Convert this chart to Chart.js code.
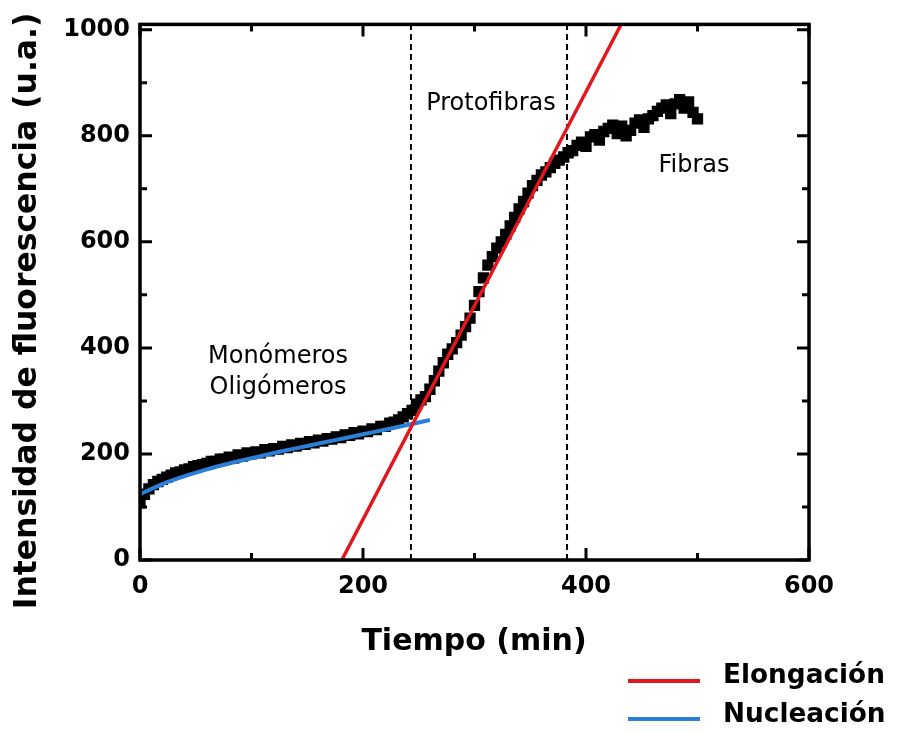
<!DOCTYPE html>
<html><head><meta charset="utf-8">
<script src="https://cdn.jsdelivr.net/npm/chart.js@4.4.1/dist/chart.umd.min.js"></script>
<style>html,body{margin:0;padding:0;background:#fff}#wrap{width:899px;height:733px;position:relative}</style>
</head><body><div id="wrap"><canvas id="c" width="899" height="733"></canvas></div>
<script>
// ---- data ----
const timeMin = [0,4,8,12,16,20,24,28,32,36,40,44,48,52,56,60,64,68,72,76,80,84,88,92,96,100,
104,108,112,116,120,124,128,132,136,140,144,148,152,156,160,164,168,172,176,180,184,188,192,196,200,
204,208,212,216,220,224,228,232,236,240,244,248,252,256,260,264,268,272,276,280,284,288,292,296,300,
304,308,312,316,320,324,328,332,336,340,344,348,352,356,360,364,368,372,376,380,384,388,392,396,400,
404,408,412,416,420,424,428,432,436,440,444,448,452,456,460,464,468,472,476,480,484,488,492,496,500];
const fluorescence = [108,124,134,142,148,152,156,160,164,166,170,172,176,178,180,182,186,186,190,190,194,192,198,196,202,200,
204,202,208,206,210,209,214,212,217,215,220,218,223,221,226,224,229,228,232,231,236,235,240,238,243,
242,247,246,252,252,258,260,264,270,276,282,294,302,308,322,338,356,372,388,398,410,424,440,456,480,
506,532,556,572,588,600,614,630,646,662,676,692,706,716,726,732,740,748,754,760,768,772,782,788,780,
798,802,792,808,814,820,804,818,800,810,824,830,816,832,838,846,852,858,842,860,868,852,864,844,832];
const nucleationX = [0,20,40,60,80,100,125,150,175,200,225,245,260];
const nucleationY = [124,143,158,171,182,192,204,215,226,237,248,257,264];
const elongationX = [181,431];
const elongationY = [0,1008];
const phaseBoundaries = [243,383];
const xTickValues = [0,200,400,600];
const xMinorTicks = [100,300,500];
const yTickValues = [0,200,400,600,800,1000];
const yMinorTicks = [100,300,500,700,900];
const seriesNames = ['Elongación','Nucleación'];
const phaseLabels = ['Monómeros','Oligómeros','Protofibras','Fibras'];
const axisTitles = ['Tiempo (min)','Intensidad de fluorescencia (u.a.)'];

const RED = '#e3161d', BLUE = '#2a7fd8';
const pts = (xs, ys) => xs.map((v,i)=>({x:v,y:ys[i]}));

const decor = {
  id:'decor',
  afterDatasetsDraw(chart){
    const {ctx, chartArea:a, scales:{x,y}} = chart;
    ctx.save();
    ctx.strokeStyle='#000';
    ctx.lineWidth=3.5;
    ctx.strokeRect(a.left, a.top, a.right-a.left, a.bottom-a.top);
    ctx.lineWidth=3;
    ctx.beginPath();
    const xt = (v,len)=>{const p=x.getPixelForValue(v); ctx.moveTo(p,a.bottom); ctx.lineTo(p,a.bottom-len); ctx.moveTo(p,a.top); ctx.lineTo(p,a.top+len);};
    const yt = (v,len)=>{const p=y.getPixelForValue(v); ctx.moveTo(a.left,p); ctx.lineTo(a.left+len,p); ctx.moveTo(a.right,p); ctx.lineTo(a.right-len,p);};
    xTickValues.forEach(v=>xt(v,12)); xMinorTicks.forEach(v=>xt(v,7));
    yTickValues.forEach(v=>yt(v,12)); yMinorTicks.forEach(v=>yt(v,7));
    ctx.stroke();
    ctx.restore();
  },
  afterDraw(chart){
    const ctx = chart.ctx;
    ctx.save();
    ctx.fillStyle='#000';
    const fit=(t,w,weight)=>{ctx.font=`${weight} 100px "DejaVu Sans"`;return 100*w/ctx.measureText(t).width;};
    // y axis title
    const ys = fit(axisTitles[1],597,'bold');
    ctx.save(); ctx.translate(36,311); ctx.rotate(-Math.PI/2);
    ctx.font=`bold ${ys}px "DejaVu Sans"`; ctx.textAlign='center'; ctx.textBaseline='alphabetic';
    ctx.fillText(axisTitles[1],0,0); ctx.restore();
    // x axis title
    ctx.font='bold 30px "DejaVu Sans"'; ctx.textAlign='center'; ctx.textBaseline='alphabetic';
    ctx.fillText(axisTitles[0],474,650);
    // phase labels
    ctx.font='24px "DejaVu Sans"';
    ctx.fillText(phaseLabels[0],278,363);
    ctx.fillText(phaseLabels[1],278,394);
    ctx.fillText(phaseLabels[2],491,110);
    ctx.fillText(phaseLabels[3],694,172);
    // legend
    const ls = fit(seriesNames[0],162,'bold');
    ctx.lineWidth=4;
    ctx.strokeStyle=RED; ctx.beginPath(); ctx.moveTo(628,681); ctx.lineTo(700,681); ctx.stroke();
    ctx.strokeStyle=BLUE; ctx.beginPath(); ctx.moveTo(628,719); ctx.lineTo(700,719); ctx.stroke();
    ctx.font=`bold ${ls}px "DejaVu Sans"`; ctx.textAlign='left';
    ctx.fillText(seriesNames[0],723,683);
    ctx.fillText(seriesNames[1],723,722);
    ctx.restore();
  }
};

new Chart(document.getElementById('c'), {
  type:'scatter',
  data:{datasets:[
    {label:seriesNames[0], data:pts(elongationX,elongationY), showLine:true, borderColor:RED, borderWidth:3.5, pointRadius:0, fill:false},
    {label:seriesNames[1], data:pts(nucleationX,nucleationY), showLine:true, borderColor:BLUE, borderWidth:4, pointRadius:0, tension:0.4, cubicInterpolationMode:'monotone', fill:false},
    {label:'ThT', data:pts(timeMin,fluorescence), showLine:false, pointStyle:'rect', pointRadius:8, backgroundColor:'#000', borderWidth:0},
    {label:'b1', data:[{x:phaseBoundaries[0],y:0},{x:phaseBoundaries[0],y:1010}], showLine:true, borderColor:'#000', borderWidth:2, borderDash:[6,4], pointRadius:0},
    {label:'b2', data:[{x:phaseBoundaries[1],y:0},{x:phaseBoundaries[1],y:1010}], showLine:true, borderColor:'#000', borderWidth:2, borderDash:[6,4], pointRadius:0}
  ]},
  options:{
    responsive:false, animation:false, devicePixelRatio:1,
    layout:{padding:{left:0,top:15,right:90,bottom:0}},
    plugins:{legend:{display:false}, tooltip:{enabled:false}},
    scales:{
      x:{type:'linear', min:0, max:600,
        grid:{display:false, drawTicks:false}, border:{display:false},
        afterBuildTicks:s=>{s.ticks=xTickValues.map(v=>({value:v}));},
        ticks:{font:{family:'DejaVu Sans',weight:'bold',size:24}, color:'#000', padding:12, maxRotation:0, autoSkip:false, callback:v=>String(v)},
        afterFit:s=>{s.height=173;}},
      y:{type:'linear', min:0, max:1010,
        grid:{display:false, drawTicks:false}, border:{display:false},
        afterBuildTicks:s=>{s.ticks=yTickValues.map(v=>({value:v}));},
        ticks:{font:{family:'DejaVu Sans',weight:'bold',size:24}, color:'#000', padding:10, autoSkip:false, callback:v=>String(v)},
        afterFit:s=>{s.width=140;}}
    }
  },
  plugins:[decor]
});
</script></body></html>
